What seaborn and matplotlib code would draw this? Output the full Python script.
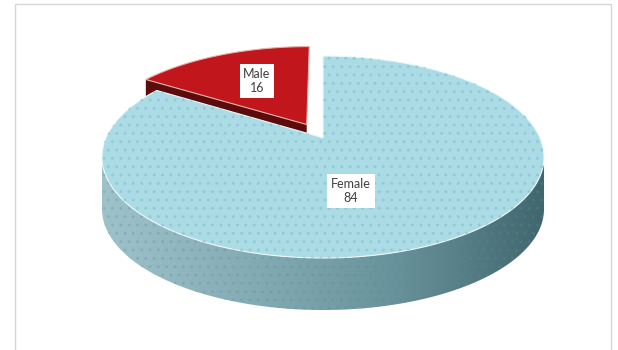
import numpy as np
import matplotlib
matplotlib.use("Agg")
import matplotlib.pyplot as plt
from matplotlib.patches import Polygon, Rectangle
from matplotlib.colors import LinearSegmentedColormap
import seaborn as sns

# Data
categories = ["Male", "Female"]
values = [16, 84]

# Styling
top_colors = {"Male": "#c0161c", "Female": "#abdce6"}
cut_colors = {"Male": "#5c0c0c", "Female": "#4f7a82"}
side_cmap = LinearSegmentedColormap.from_list(
    "side", ["#9ec2ca", "#84acb5", "#68929b", "#41676e"])
explode = {"Male": 0.16, "Female": 0.0}

sns.set_theme(style="white")
plt.rcParams["font.family"] = ["Lato", "DejaVu Sans"]

W, H = 618, 350
fig = plt.figure(figsize=(W / 100, H / 100), dpi=100)
ax = fig.add_axes([0, 0, 1, 1])
ax.set_xlim(0, W)
ax.set_ylim(H, 0)
ax.axis("off")

# chart area border
ax.add_patch(Rectangle((15, 4), 596, 360, fill=False, ec="#d6d6d6", lw=1.0))

# pie geometry (pixel space, y downwards); tilt gives the perspective shift
cx, cy, rx, ry, depth, tilt = 323, 157, 221, 101, 52, 0.19


def project(u, v):
    """Perspective map of the unit disk onto the screen ellipse."""
    den = 1 + tilt * v
    X = u * np.sqrt(1 - tilt ** 2) / den
    Y = (v + tilt) / den
    return cx + rx * X, cy - ry * Y, Y


def disk(t, off=(0.0, 0.0), r=1.0):
    t = np.radians(t)
    return off[0] + r * np.cos(t), off[1] + r * np.sin(t)


total = sum(values)
start = 90.0
wedges = []
for cat, v in zip(categories, values):
    sweep = 360.0 * v / total
    mid = np.radians(start + sweep / 2)
    e = explode[cat]
    off = (e * np.cos(mid), e * np.sin(mid))
    wedges.append((cat, start, start + sweep, off))
    start += sweep

# back pieces first, then the front wedge
order = sorted(wedges, key=lambda w: -w[3][1])
for cat, a0, a1, off in order:
    ax_, ay_, _ = project(*off)
    # radial cut faces that turn towards the viewer
    for edge, visible in ((a0, 270 < a0 % 360 or a0 % 360 < 90),
                          (a1, 90 < a1 % 360 < 270)):
        if visible and explode[cat] > 0:
            x1, y1, _ = project(*disk(edge, off))
            face = [(ax_, ay_), (x1, y1), (x1, y1 + depth), (ax_, ay_ + depth)]
            ax.add_patch(Polygon(face, closed=True, fc=cut_colors[cat], ec="none"))
    # outer side wall: rim points on the near half of the ellipse
    ts = np.linspace(a0, a1, 800)
    xs, ys, Ys = project(*disk(ts, off))
    near = Ys <= 0
    if near.any():
        xs_n, ys_n = xs[near], ys[near]
        idx = np.argsort(xs_n)
        xs_n, ys_n = xs_n[idx], ys_n[idx]
        pts = list(zip(xs_n, ys_n)) + list(zip(xs_n[::-1], ys_n[::-1] + depth))
        wall = Polygon(pts, closed=True, fc="none", ec="none")
        ax.add_patch(wall)
        grad = np.linspace(0, 1, 256).reshape(1, -1)
        im = ax.imshow(grad, cmap=side_cmap, aspect="auto",
                       extent=(xs_n.min(), xs_n.max(), ys_n.max() + depth, ys_n.min()),
                       zorder=1)
        im.set_clip_path(wall)
        ax.add_patch(Polygon(pts, closed=True, fc="none", ec="#5f8c95",
                             lw=0, hatch="..", zorder=1.1, alpha=0.22))
    # top face
    poly = [(ax_, ay_)] + list(zip(xs, ys))
    ax.add_patch(Polygon(poly, closed=True, fc=top_colors[cat],
                         ec="#eef8fa" if cat == "Female" else "#e9b0a8",
                         lw=0.8, zorder=2))
    if cat == "Female":
        ax.add_patch(Polygon(poly, closed=True, fc="none", ec="#90c8d5",
                             lw=0, hatch="..", zorder=2.1, alpha=0.8))

# data labels
label_pos = {"Male": (257, 81), "Female": (351, 191)}
for cat, v in zip(categories, values):
    x, y = label_pos[cat]
    ax.text(x, y, f"{cat}\n{v}", ha="center", va="center", fontsize=9,
            color="#404040", linespacing=1.3, zorder=5,
            bbox=dict(boxstyle="square,pad=0.3", fc="white", ec="none"))

fig.savefig("out.png", dpi=100)
